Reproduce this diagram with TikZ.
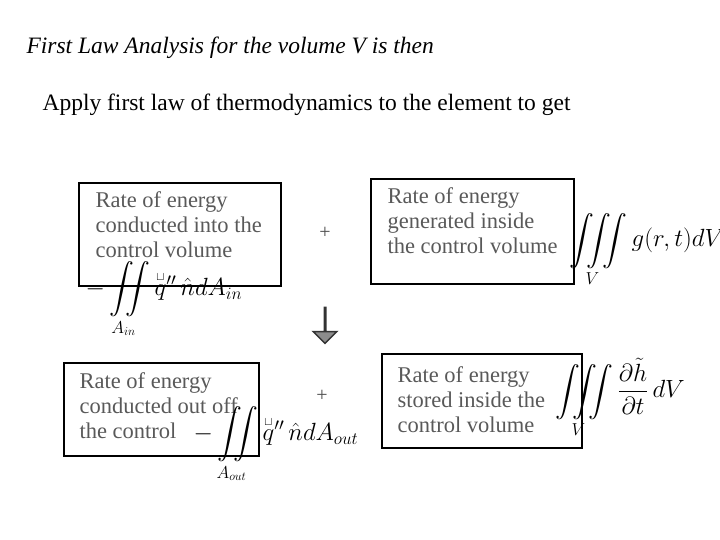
\documentclass[tikz,border=0pt]{standalone}
\usepackage{fontspec}
\setmainfont{Liberation Serif}
\usepackage{amsmath}
\usetikzlibrary{shapes.arrows}
\newcommand{\qmark}{\sqcup}
\begin{document}
\begin{tikzpicture}[x=1pt,y=-1pt,
  box/.style={draw,line width=2pt,anchor=north west,inner sep=0pt},
  btxt/.style={anchor=north west,align=left,text=black!65,font=\fontsize{22.5}{25}\selectfont},
  eq/.style={font=\fontsize{23}{27}\selectfont}]
\useasboundingbox (0,0) rectangle (720,540);
\node[anchor=west,font=\fontsize{23.5}{28}\selectfont\itshape] (t1) at (23,48) {First Law Analysis for the volume V is then};
\node[anchor=west,font=\fontsize{23.5}{28}\selectfont] (t2) at (39,105) {Apply first law of thermodynamics to the element to get};
% boxes
\node[box,minimum width=202,minimum height=103] (b1) at (78,182) {};
\node[btxt] (l1) at (92,188) {Rate of energy\\conducted into the\\control volume};
\node[box,minimum width=203,minimum height=105] (b2) at (370,178) {};
\node[btxt] (l2) at (384,184) {Rate of energy\\generated inside\\the control volume};
\node[box,minimum width=195,minimum height=93] (b3) at (63,362) {};
\node[btxt] (l3) at (76,369) {Rate of energy\\conducted out off\\the control};
\node[box,minimum width=200,minimum height=94] (b4) at (381,353) {};
\node[btxt] (l4) at (394,363) {Rate of energy\\stored inside the\\control volume};
% plus
\node[font=\fontsize{20}{22}\selectfont,text=black!70] (p1) at (325,233) {+};
\node[font=\fontsize{20}{22}\selectfont,text=black!70] (p2) at (322,396) {+};
% arrow
\node[single arrow,shape border rotate=270,draw=black!80,fill=black!45,line width=1.5pt,
  minimum width=18,single arrow head extend=11,minimum height=36,inner sep=0pt] (ar) at (325,325) {};
% equations
\node[eq,anchor=west] (e1) at (82,300) {$-\displaystyle\iint\limits_{A_{in}}\overset{\scriptscriptstyle\qmark}{q}{}''\,\hat n dA_{in}$};
\node[eq,anchor=west] (e2) at (566,250) {$\displaystyle\iiint\limits_{V} g(r,t)dV$};
\node[eq,anchor=west] (e3) at (190,445) {$-\displaystyle\iint\limits_{A_{out}}\overset{\scriptscriptstyle\qmark}{q}{}''\,\hat n dA_{out}$};
\node[eq,anchor=west] (e4) at (552,398) {$\displaystyle\iiint\limits_{V}\frac{\partial\tilde h}{\partial t}\,dV$};
\end{tikzpicture}
\end{document}
